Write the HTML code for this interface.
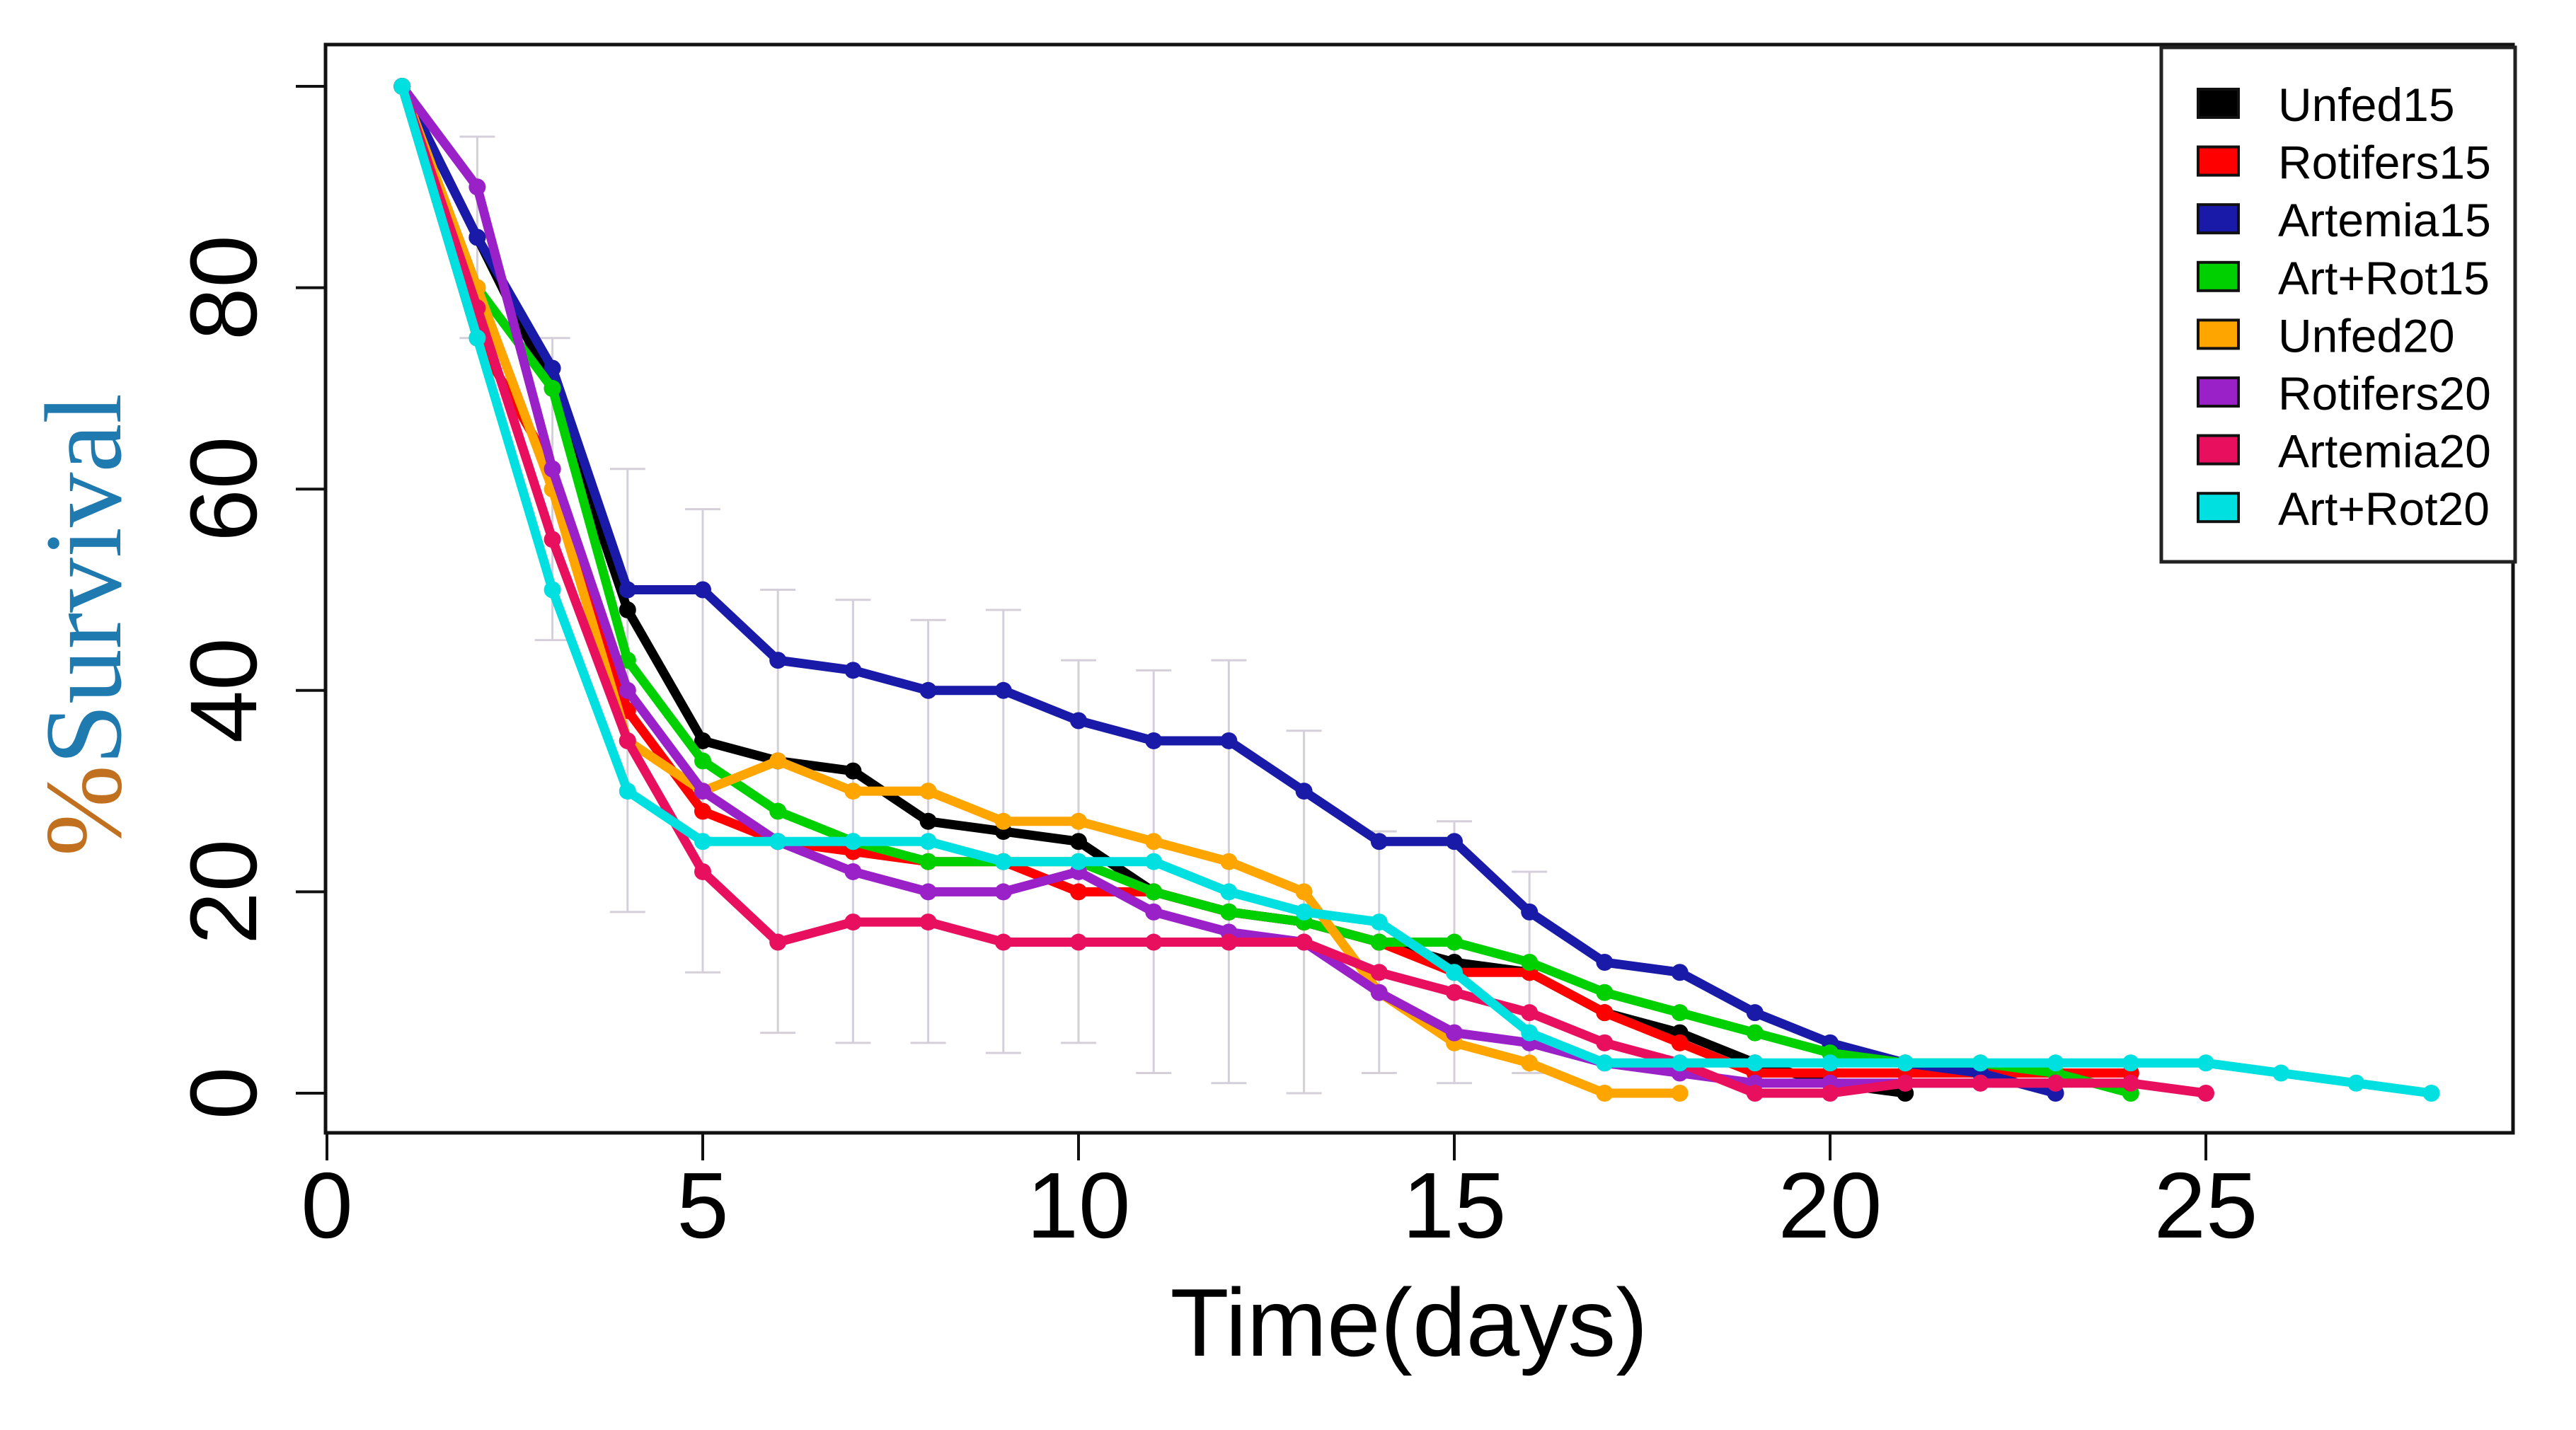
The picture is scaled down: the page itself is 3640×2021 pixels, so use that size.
<!DOCTYPE html>
<html><head><meta charset="utf-8"><style>
html,body{margin:0;padding:0;background:#fff;}
svg{display:block;}
</style></head><body>
<svg id="chart" width="3640" height="2021" viewBox="0 0 3640 2021" xmlns="http://www.w3.org/2000/svg">
<rect width="3640" height="2021" fill="#fff"/>
<g id="errs"></g>
<g id="series"></g>
<rect x="460" y="63" width="3091" height="1538" fill="none" stroke="#111" stroke-width="5"/>
<g id="axes"></g>
<text x="1991" y="1916" font-family="Liberation Sans, sans-serif" font-size="136" text-anchor="middle" fill="#000">Time(days)</text>
<text transform="translate(170,883) rotate(-90)" font-family="Liberation Serif, serif" font-size="155" text-anchor="middle"><tspan fill="#c0701e">%</tspan><tspan fill="#1f7ab0">Survival</tspan></text>
<g id="legend">
<rect x="3054" y="67" width="500" height="727" fill="#fff" stroke="#222" stroke-width="5"/>
</g>
</svg>
<script>
const names = ["Unfed15","Rotifers15","Artemia15","Art+Rot15","Unfed20","Rotifers20","Artemia20","Art+Rot20"];
const colors = ["#000000","#ff0000","#1a1aa8","#00d000","#ffa500","#9a20c8","#e8105e","#00e0e0"];
const xTicks = [0,5,10,15,20,25];
const yTicks = [0,20,40,60,80,100];
const yTickLabels = ["0","20","40","60","80",""];
const unfed15 = [100,85,70,48,35,33,32,27,26,25,20,18,17,15,13,12,8,6,3,1,0];
const rotifers15 = [100,75,62,38,28,25,24,23,23,20,20,18,17,15,12,12,8,5,2,2,2,2,2,2];
const artemia15 = [100,85,72,50,50,43,42,40,40,37,35,35,30,25,25,18,13,12,8,5,3,2,0];
const artRot15 = [100,80,70,43,33,28,25,23,23,23,20,18,17,15,15,13,10,8,6,4,3,3,2,0];
const unfed20 = [100,80,60,35,30,33,30,30,27,27,25,23,20,10,5,3,0,0];
const rotifers20 = [100,90,62,40,30,25,22,20,20,22,18,16,15,10,6,5,3,2,1,1,1,1,1];
const artemia20 = [100,78,55,35,22,15,17,17,15,15,15,15,15,12,10,8,5,3,0,0,1,1,1,1,0];
const artRot20 = [100,75,50,30,25,25,25,25,23,23,23,20,18,17,12,6,3,3,3,3,3,3,3,3,3,2,1,0];
const errDays = [2,3,4,5,6,7,8,9,10,11,12,13,14,15,16];
const errMid = [85,60,40,35,28,27,26,26,24,22,22,18,14,14,12];
const errHalf = [10,15,22,23,22,22,21,22,19,20,21,18,12,13,10];

const seriesData = [unfed15,rotifers15,artemia15,artRot15,unfed20,rotifers20,artemia20,artRot20];
const NS = "http://www.w3.org/2000/svg";
const X0 = 462, XPD = 106.2, Y0 = 1545, YPU = 14.23;
function xs(d){ return X0 + d*XPD; }
function ys(v){ return Y0 - v*YPU; }
function mk(tag, attrs, parent){ const e=document.createElementNS(NS,tag); for(const k in attrs) e.setAttribute(k,attrs[k]); parent.appendChild(e); return e; }

const eg = document.getElementById('errs');
errDays.forEach((d,i)=>{
  const x=xs(d), y1=ys(errMid[i]-errHalf[i]), y2=ys(errMid[i]+errHalf[i]);
  const g=mk('g',{stroke:'#b8b0c0','stroke-width':3,opacity:0.6},eg);
  
  
  mk('line',{x1:x,y1:y1,x2:x,y2:y2},g);
  mk('line',{x1:x-25,y1:y1,x2:x+25,y2:y1},g);
  mk('line',{x1:x-25,y1:y2,x2:x+25,y2:y2},g);
});

const sg = document.getElementById('series');
seriesData.forEach((arr,si)=>{
  const g=mk('g',{},sg);
  
  
  const pts=arr.map((v,i)=>xs(i+1)+','+ys(v)).join(' ');
  const pl=mk('polyline',{points:pts,fill:'none',stroke:colors[si],'stroke-width':13,'stroke-linejoin':'round'},g);
  
  
  arr.forEach((v,i)=>{
    const c=mk('circle',{cx:xs(i+1),cy:ys(v),r:12,fill:colors[si]},g);
    
    
  });
});

const ag=document.getElementById('axes');
xTicks.forEach(t=>{
  const l=mk('line',{x1:xs(t),y1:1601,x2:xs(t),y2:1640,stroke:'#111','stroke-width':4},ag);
  
  
  const tx=mk('text',{x:xs(t),y:1749,'font-family':'Liberation Sans, sans-serif','font-size':132,'text-anchor':'middle',fill:'#000'},ag);
  tx.textContent=String(t);
  
  
});
yTicks.forEach((t,i)=>{
  const l=mk('line',{x1:418,y1:ys(t),x2:460,y2:ys(t),stroke:'#111','stroke-width':4},ag);
  
  
  if(yTickLabels[i]){
    const tx=mk('text',{transform:'translate(362,'+ys(t)+') rotate(-90)','font-family':'Liberation Sans, sans-serif','font-size':134,'text-anchor':'middle',fill:'#000'},ag);
    tx.textContent=yTickLabels[i];
    
    
  }
});

const lg=document.getElementById('legend');
names.forEach((n,i)=>{
  const y=146+i*81.6;
  const r=mk('rect',{x:3106,y:y-20,width:57,height:40,fill:colors[i],stroke:'#111','stroke-width':4},lg);
  
  
  const t=mk('text',{x:3219,y:y+25,'font-family':'Liberation Sans, sans-serif','font-size':66,fill:'#000'},lg);
  t.textContent=n;
  
  
});
</script>
</body></html>
